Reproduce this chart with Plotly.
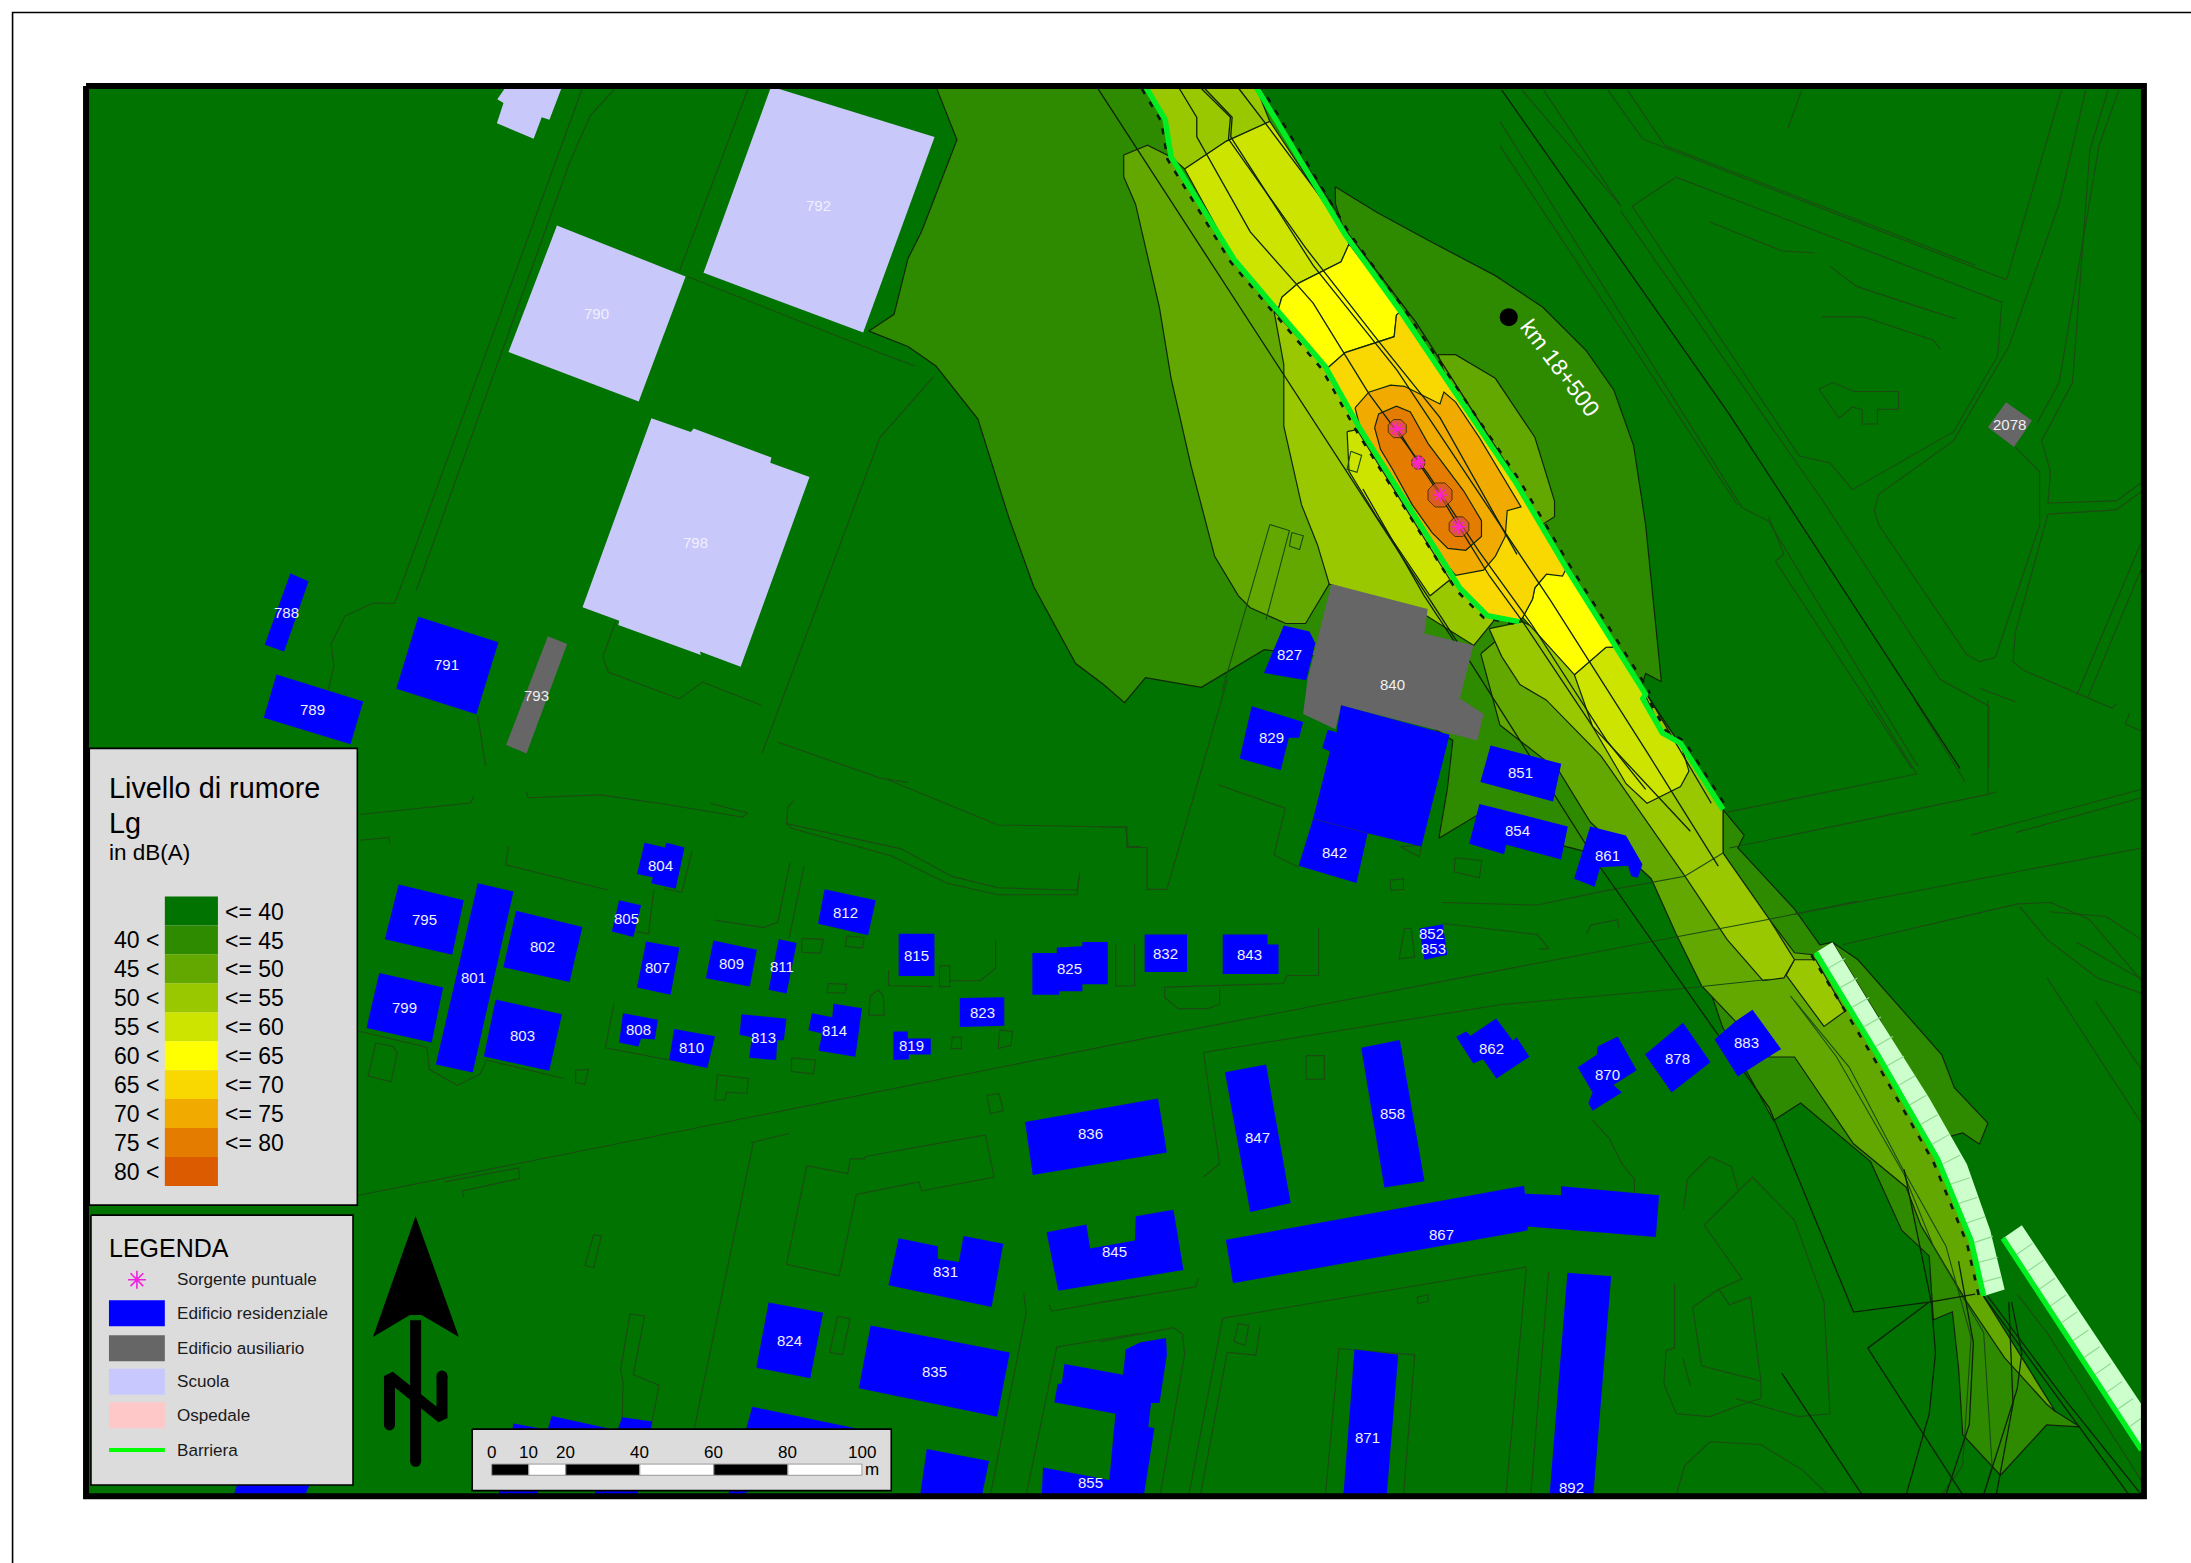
import plotly.graph_objects as go

# ---------- map units: 1 unit = 1.397 px; x to the right, y downward ----------
MAP_W, MAP_H = 1568.4, 1118.8
frame = [(61.6, 61.6), (1534.7, 61.6), (1534.7, 1071), (61.6, 1071), (61.6, 61.6)]

# ---------- noise classes ----------
level_colors = ["#007300", "#2e8b00", "#62a800", "#99c700", "#cde300", "#ffff00",
                "#f8d800", "#f0aa00", "#e47c00", "#dc5a00"]
upper_labels = ["<= 40", "<= 45", "<= 50", "<= 55", "<= 60", "<= 65", "<= 70", "<= 75", "<= 80"]
lower_labels = ["40 <", "45 <", "50 <", "55 <", "60 <", "65 <", "70 <", "75 <", "80 <"]

barrier_ne = [(899, 62), (963, 168), (1002.5, 222.7), (1036.5, 273.7), (1084.5, 344.4), (1121.3, 406.7),
              (1175, 491.6), (1178, 497), (1176, 500), (1190, 524.7), (1203, 532), (1233.4, 579.5)]
barrier_sw = [(820, 62), (834, 85.5), (838.3, 112.4), (883.6, 186), (914.7, 222.7), (948.7, 262.4), (974, 307.6),
              (1008, 361.4), (1045, 420.8), (1064.7, 440.6), (1087.4, 444.9)]

zone45_main = [(670, 62), (685, 100), (660, 165), (650, 185), (640, 225), (622, 237), (650, 248), (670, 262), (700, 300),
               (722, 370), (740, 420), (770, 475), (790, 490), (805, 503), (820, 485), (860, 492), (905, 465), (945, 470),
               (1040, 530), (1036, 565), (1030, 600), (1060, 582), (1117, 605), (1176, 620), (1194, 647), (1218, 691),
               (1233, 735), (1251, 767.6), (1269.5, 802), (1289, 789.5), (1339, 831.5), (1361.4, 880.8), (1381, 899),
               (1384, 944.7), (1397.6, 939), (1402, 979), (1405, 1027), (1432, 1056), (1465, 1020), (1489, 1021.4),
               (1471, 1010), (1420, 928), (1411, 888), (1381, 810), (1311.7, 674.5), (1302.7, 676.3), (1284.6, 650.7),
               (1244, 607), (1248.5, 597.8), (1233.4, 579.5), (1175, 491.6), (1121, 406), (899, 62)]
zone45_east = [(955.8, 133.6), (985.5, 152), (1022, 171.8), (1070.4, 197.3), (1104.4, 219.9), (1135.5, 251),
               (1155.3, 279.3), (1169.4, 319), (1178, 375.6), (1189.3, 488), (1178, 482), (1175, 491.6), (1121, 406.7),
               (1036.5, 273.7), (963, 168), (956, 146)]
zone45_bar = [(1311.7, 674.5), (1330, 687), (1390, 755), (1399, 778.6), (1423, 804), (1417, 819), (1405, 811), (1390, 815),
              (1345, 729)]
zone50_west = [(804.4, 111), (821.4, 103.9), (838.3, 112.4), (883.6, 186), (914.7, 222.7), (948.7, 262.4), (1008, 361.4),
               (1045, 420.8), (951.5, 418), (934.6, 446.3), (920.4, 446.3), (910.5, 442), (895, 435), (886.5, 426.5),
               (869.5, 398.2), (852.5, 333.1), (838.3, 270.8), (829.9, 219.9), (812.9, 146.3), (804.4, 126.5)]
zone50_east = [(1029.4, 253.9), (1042, 253.9), (1070.4, 270.8), (1098.7, 313), (1112.8, 358.6), (1112.8, 369.9),
               (1101.5, 377), (1084.5, 344.4), (1036.5, 273.7)]
zone50_south = [(1060, 468), (1073.7, 519), (1116, 552), (1138.5, 588.6), (1182, 629), (1200, 669), (1218, 705.5),
                (1266.5, 756.6), (1284.6, 756.6), (1326.8, 818.7), (1364.5, 849.8), (1375, 877), (1408, 932), (1435, 972),
                (1465, 1005), (1471.4, 1010.5), (1420, 928), (1411, 888), (1375, 804), (1299.7, 683.6), (1284.6, 682),
                (1266.5, 658), (1233.4, 610.6), (1233.4, 579.5), (1175, 491.6), (1087, 445)]
zone55_north = [(912, 222.7), (948.7, 262.4), (974, 307.6), (1008, 361.4), (1045, 420.8), (1064.7, 440.6), (1070, 443.5),
                (1055, 462), (1020, 440), (951.5, 418), (943, 389.7), (931.7, 361.4), (919, 305), (919, 261)]
zone55_top = [(820, 62), (899, 62), (909, 87), (878, 101), (848, 121), (838, 112), (834, 85)]
zone55_south = [(1066, 450), (1075, 470), (1088, 490), (1106.8, 501), (1146, 541), (1179, 588.6), (1206, 627), (1236.4, 672.6),
                (1262, 702), (1277, 700), (1284.6, 687), (1266.5, 658), (1233.4, 610.6), (1233.4, 579.5), (1175, 491.6),
                (1090, 445)]
zone55_pocket = [(1278.6, 698), (1305.7, 734.7), (1320.8, 723.8), (1299.7, 687), (1284.6, 687)]
zone60_top = [(848, 121), (878, 101), (909, 87), (963, 168), (965.7, 174.6), (960, 187.4), (929, 203), (917.6, 212.8),
              (914.7, 222.7), (883.6, 186)]
zone60_sliver = [(964.3, 309), (971.4, 307.6), (1037.9, 415), (1023.7, 426.5), (985.5, 369.9), (965.7, 337.3)]
zone60_south = [(1127, 483), (1149.6, 463.3), (1158, 463), (1175, 491.6), (1190, 524.7), (1203, 532), (1209, 552), (1203, 563),
                (1179, 575), (1164, 561), (1140, 520)]
zone65_north = [(917.6, 212.8), (929, 203), (960, 187.4), (965.7, 174.6), (1002.5, 222.7), (999.6, 225.6), (998, 241),
                (962.9, 252.4), (950, 263.8), (914.7, 222.7)]
zone65_south = [(1107, 411), (1121.3, 406.7), (1158, 463), (1149.6, 463.3), (1127, 483), (1090, 442), (1097, 429), (1098.7, 420.8)]
zone70 = [(950, 263.8), (962.9, 252.4), (998, 241), (999.6, 225.6), (1002.5, 222.7), (1036.5, 273.7), (1084.5, 344.4),
          (1121.3, 406.7), (1118.5, 412.3), (1107, 411), (1098.7, 420.8), (1097, 429), (1090, 442), (1087.4, 444.9),
          (1064.7, 440.6), (1045, 420.8), (1008, 361.4), (974, 307.6)]
zone75 = [(970, 292), (979.8, 280.7), (995.4, 275.7), (1005.3, 276.5), (1030.8, 289.2), (1033.6, 280.7), (1042, 287.8),
          (1059, 313.3), (1088.8, 362.8), (1078.9, 365.6), (1077.5, 384), (1070.4, 398.2), (1061.9, 408.1), (1042, 411.8),
          (1036.4, 405.3), (1008, 361.4), (974, 307.6)]
zone80 = [(984, 306.2), (986.9, 296.3), (999.6, 290.7), (1009.6, 294.9), (1022.3, 317.5), (1036.4, 335.9), (1047.8, 351.5),
          (1060.5, 372.7), (1060.5, 384), (1049.2, 393.9), (1036.4, 392.5), (1025.1, 381.2), (1011, 361.4), (996.8, 335.9),
          (988.3, 321.8)]

source_x = [1000.2, 1015.2, 1030.8, 1044.4]
source_y = [306.8, 331.1, 354.3, 377.0]
source_hot_radius = [7.0, 5.0, 9.3, 7.6]

# ---------- thin cadastral / road lines ----------
road_lines = [
    [(417, 62.8), (282.6, 432), (267.3, 431.6), (247, 440.8), (237, 460.8), (239, 477.3), (235, 493.7)],
    [(440.8, 62.8), (422.5, 82.9), (408, 115.7), (298, 422.5)],
    [(535.7, 62.8), (486.4, 194)], [(492, 198), (630, 252.7), (655, 262)], [(668, 270), (630, 313), (545.6, 539)],
    [(440.8, 444.4), (431.6, 470), (435.3, 481), (486.4, 500.3), (502.8, 488.2), (544.8, 504.7)],
    [(556.9, 531.3), (630, 556.9), (650, 560)], [(342, 512), (347.6, 548.5)],
    [(257.4, 583), (336.7, 574.8), (339.2, 570.4)],
    [(376.8, 566.7), (378, 571), (430, 569), (477.3, 575.9), (532, 585), (535, 582), (508.3, 575)],
    [(257.4, 601.5), (278.2, 599.6), (279.3, 604)],
    [(568.4, 573), (564, 578), (563, 589.5), (645, 607.6), (681.6, 627.3), (714.5, 635.5), (771, 637.2), (773, 624), (771, 640.5),
     (714.5, 640.5), (678, 632.3), (637.8, 612.5), (566.6, 592.8), (563, 589.5)],
    [(636, 558.3), (714.5, 590.5), (805.8, 592.2), (807.6, 606), (816, 606)],
    [(256, 855.8), (816, 744), (1073.7, 694.6), (1266.5, 658), (1330, 645)],
    [(1236.4, 581.3), (1372, 554), (1339, 501)], [(1238, 607), (1423, 568.6), (1429, 566.7)],
    [(1284.6, 654.4), (1533, 607)], [(1319, 676.3), (1444.3, 647), (1468, 646), (1495.5, 658), (1533, 702)],
    [(1411, 597.8), (1533, 565)], [(1442.8, 596), (1533, 571)], [(1423, 501), (1423, 568.6)],
    [(1370.5, 501), (1406.6, 559.4)], [(1467, 652.6), (1507.6, 656), (1533, 672.6)],
    [(1445.8, 649), (1465.4, 672.6), (1501.5, 700), (1533, 711)], [(1465.4, 700), (1533, 804)],
    [(1500, 716.5), (1533, 765.8)], [(1486.5, 674.5), (1533, 701)],
    [(1281.6, 712.8), (1323.8, 764), (1360, 833), (1393, 892), (1411, 957.5), (1405, 1049), (1390, 1070)],
    [(1284.6, 716.5), (1314.7, 756.6), (1363, 840.6), (1384, 892), (1420, 954), (1426, 1049), (1420, 1070)],
    [(1205, 866), (1208, 844), (1224, 828), (1239.4, 835), (1244, 851.6)],
    [(1220, 877), (1254.5, 842.5), (1284.6, 873.5), (1305.7, 932), (1310, 1012), (1287.6, 1014), (1242.4, 1001)],
    [(1220, 877), (1247, 915.5), (1230.4, 922.8), (1238, 934), (1253, 928.3), (1260.5, 988.5), (1218, 977.6), (1211.7, 935.6), (1230.4, 922.8)],
    [(1140, 802), (1152, 815), (1161, 833), (1170, 844), (1170, 853.4)],
    [(1198.7, 919), (1198.7, 965), (1192.7, 966.6), (1191, 990.4), (1200, 1012), (1224, 1014), (1242.4, 1007), (1260.5, 1001), (1260.5, 988.5)],
    [(1204.7, 972), (1210, 992)], [(1200, 1070), (1206, 1049), (1224, 1032), (1260.5, 1034), (1290.6, 1052.5), (1308.7, 1070)],
    [(1108.6, 910), (1095.8, 1070)], [(1092.6, 908), (1078, 1070)], [(1092.6, 907), (875.3, 943.6), (851, 1070)],
    [(878.5, 968), (859.3, 1070)], [(878.5, 968), (899, 970), (902, 950)],
    [(958.4, 965.3), (1012.7, 969.8), (1004.7, 1070)], [(958.4, 965.3), (948.8, 1070)],
    [(857.7, 915), (856, 921), (787.4, 932.3)], [(787.4, 960.4), (840, 950.3), (846.5, 955), (848, 969.8), (830.5, 1070)],
    [(861.5, 842.5), (873, 833), (861.5, 753.4), (1075, 719), (1203, 707.7), (1267, 701)],
    [(872, 561.7), (920, 578.5), (912, 612), (929.6, 620.8)],
    [(787.4, 592), (806.6, 592), (806.6, 606.6), (821, 606.6), (821, 636.6), (835.3, 636.6), (878.5, 486.8)],
    [(1032, 646), (1100.6, 647.8), (1145.4, 638.4), (1206, 627.2), (1233.4, 610.6)],
    [(1033.5, 661), (1100.6, 669), (1108.6, 679), (1102, 679.6)], [(1135.8, 668.4), (1139, 662), (1158, 658.3), (1159, 664.6)],
    [(944, 664.6), (944, 698.3), (921.6, 698.3), (918.4, 704), (833.7, 706.6), (833.7, 714), (843.3, 722), (864, 722), (873, 719), (873, 707.7)],
    [(798.6, 676), (798.6, 705.8), (812.3, 705.8), (812.3, 676)],
    [(364, 606), (362, 619), (435, 637)], [(495.4, 609.3), (488, 638.8), (475, 636)], [(468, 637), (464.3, 668.4), (455.2, 666.8)],
    [(565.5, 617.5), (556.7, 660.2), (546.5, 664), (511.8, 658.6)], [(575.7, 619.8), (564.8, 671.7)],
    [(636, 694.7), (636, 705.6), (668, 706.2)], [(679.8, 702), (701.7, 702), (712.7, 693), (712.7, 673)],
    [(439.5, 718.4), (433.3, 750), (479, 758.8)],
    [(256.2, 738), (305.5, 749.6), (307.3, 765.4), (327.4, 777), (343.8, 768.7), (348.2, 758.8), (404, 772)],
    [(318.3, 846), (371.2, 836), (372, 843.6), (331, 852.5), (332, 857.4)],
    [(537.4, 818), (564.8, 811.4)], [(539.2, 818), (497.2, 1021.8)],
    [(450.8, 940.6), (461.4, 942), (453.4, 984), (471.7, 991.5), (466, 1021.8)], [(450.8, 940.6), (444.3, 980.7), (446, 989), (445.4, 1021.8)],
    [(732.8, 925.8), (734.6, 939.6), (709, 1070)], [(816, 954.4), (756.5, 964.2), (734.6, 1070)],
    [(751, 934), (752.8, 938.6), (816, 927.4)],
    [(1089.5, 64.5), (1160.4, 147.6)], [(1105, 64.5), (1160.4, 147.6)], [(1160, 150.8), (1303.9, 357), (1389, 486.4), (1423.7, 505.5), (1423.7, 550)],
    [(1168.3, 147.6), (1288, 326.5), (1310, 331.4), (1326, 350.5), (1398.5, 309), (1430, 254.6), (1433, 216.3), (1199.8, 126.8), (1168.3, 147.6)],
    [(1151, 64.5), (1176, 99.6), (1436.3, 200.3), (1475.7, 64.5)], [(1165, 64.5), (1192, 104.4), (1414, 189.8)],
    [(1493, 64.5), (1474, 146), (1438, 248), (1417.4, 283.4), (1398.5, 315.4), (1345, 353.7), (1341.7, 365), (1345, 376), (1408, 468.8), (1417.4, 473.6), (1428.4, 470.4)],
    [(1509, 64.5), (1496, 107.6), (1483.6, 273.8), (1461.5, 315.4), (1467.8, 337.7), (1466, 360), (1515, 358.5), (1532.5, 345.7)],
    [(1516.7, 64.5), (1502.5, 104.4), (1474, 273.8), (1458.4, 302.6)],
    [(1466, 368), (1515, 365), (1532.5, 352)], [(1466, 368), (1442.6, 452.8), (1441, 473.6), (1449, 480), (1512, 507), (1515, 504)],
    [(1428.4, 470.4), (1460, 376), (1460, 337.7), (1442.6, 320)], [(1486.7, 497.5), (1532.5, 388.9)], [(1494.6, 499), (1532.5, 408)],
    [(1417.4, 492.8), (1442.6, 502.3)], [(1521.4, 518.3), (1524.6, 510.3)], [(1521.4, 518.3), (1532.5, 523)],
    [(1073.7, 86.9), (1247, 363.3), (1266, 373), (1300.7, 430.4), (1373, 548.7)], [(1073.7, 104.4), (1244, 361.7)],
    [(1266, 369.7), (1277, 396.9), (1270.8, 401.7), (1368.5, 550)],
    [(1223.5, 158.8), (1275.5, 179.5), (1299, 181.1)], [(1310, 190.7), (1329, 205), (1382.7, 222.7), (1400, 228.1)],
    [(1303.9, 226.8), (1333.8, 226.8), (1384, 243.5), (1389, 249.8)], [(1289.7, 64.5), (1280, 91.6)],
    [(1302, 278.6), (1311.8, 273.8), (1327.5, 280.2), (1359, 280.2), (1359, 293), (1344, 293), (1344, 303.5), (1333, 303.5), (1333, 293), (1326, 291.4), (1316.5, 299.4), (1302, 278.6)],
    [(909, 375.5), (923, 379.8), (906.3, 443.5)], [(909, 375.5), (875, 494)],
]
small_outlines = [
    [(935, 755.6), (948, 755.6), (948, 772.5), (935, 772.5)], [(1041.5, 614), (1060.7, 616), (1059, 628.3), (1041, 624)],
    [(995, 630), (1004.7, 629), (1004.7, 636.6), (995.8, 637.3)], [(1002.5, 606), (1016, 613.3), (1017.5, 605)],
    [(1005.4, 664.6), (1010.2, 664.6), (1012.7, 685), (1001.5, 686.4)], [(1014.3, 928.6), (1022.3, 926.7), (1022.3, 931.6), (1015, 933)],
    [(883.3, 960.4), (886.5, 947.3), (893.8, 949), (891.3, 963)], [(574, 671.7), (589.3, 672.4), (587.4, 682.2), (574, 681.6)],
    [(606, 670), (618.5, 671), (617.4, 678.6), (605.3, 677.3)], [(592.9, 704), (606, 704.6), (605, 711), (592.2, 710.5)],
    [(623, 712.8), (628.7, 708.5), (632.3, 712.8), (633, 726.6), (622, 726.6)], [(672.5, 691.4), (679.8, 691.4), (679.8, 706.2), (672.5, 706.2)],
    [(566.6, 757.2), (583.8, 758.8), (582.3, 768.7), (566.6, 767)], [(513.6, 769.3), (535.6, 772), (534.8, 782.5), (520.2, 781.8), (519, 787.4), (511.8, 787.4)],
    [(681.6, 742.4), (688.2, 742.4), (688.2, 750.6), (681, 750.6)], [(715.6, 737.4), (724.7, 738.4), (723.7, 748.3), (714.5, 750.6)],
    [(706.5, 784), (715.2, 782.8), (718.2, 795), (709, 797.3)], [(269, 746.6), (281.7, 749), (284.3, 754), (280, 774.3), (263.5, 770.3)],
    [(412, 766), (421.3, 765.4), (418.7, 776.2), (412, 775)], [(425, 883.7), (430.4, 884.7), (425, 907.4), (418.7, 906)],
    [(599.5, 942.2), (608.6, 943.9), (603, 969.8), (594, 968)], [(924.7, 381.2), (933, 383.5), (930.3, 393.4), (923, 391)],
    [(967, 323), (974.7, 326), (971.4, 338), (964.3, 336)],
    [(577.6, 834.4), (606.8, 840), (608.6, 829.5), (618.5, 829.5), (619.5, 827.8), (705.4, 812.4), (711.6, 842.6), (659.7, 852.5), (657.9, 846), (613, 855), (600.6, 913.3), (563, 905)],
]
dark_lines = [
    [(785, 62), (917.6, 266.6), (1050, 470), (1146, 621.5), (1266.5, 793), (1326.8, 939.2), (1381, 932), (1414, 926.4)],
    [(1075, 64.5), (1237.7, 296.2), (1403, 550)],
    [(844, 63), (856.7, 84), (856.7, 98), (895, 166), (940, 217), (980, 282), (1022, 339), (1059, 395), (1096, 446.3), (1150, 530), (1178, 565)],
    [(859.6, 63), (880.8, 84), (879.4, 99.6), (934.6, 177.5), (985.5, 242.5), (1030.8, 299), (1085.9, 396.8)],
    [(862, 63), (882, 84), (881, 98), (940, 190), (1000, 265), (1050, 340), (1110, 430), (1180, 540), (1230, 620)],
    [(886.5, 63), (909, 92.5), (968.5, 171.8), (1013.8, 231), (1078.9, 333), (1121.3, 406.7), (1175, 490), (1225, 575)],
    [(1000.2, 306.8), (1015.2, 331), (1030.8, 354.3), (1044.4, 377), (1066.2, 412.3), (1090, 445), (1140, 520), (1210, 595)],
    [(975.6, 350), (1019.5, 426.5), (1042, 460.5)],
    [(1364.5, 1070), (1381, 1012), (1385.5, 968.5), (1382.5, 932), (1363, 837)],
    [(1393, 1070), (1409.7, 1019.6), (1412.6, 961), (1402, 902.7)],
    [(1420, 1070), (1444, 994), (1447.3, 968.5), (1440, 932)], [(1429, 1070), (1441, 1005), (1438, 932)],
    [(1420, 928), (1489.5, 1023), (1524, 1070)], [(1423, 928), (1477.5, 1001), (1533, 1070)],
    [(1337, 965), (1405, 1070)], [(1337, 965), (1381, 932)], [(1275.6, 983), (1333, 1070)],
]
long_grey = [[(1444, 926.5), (1465.4, 954), (1533, 1060)]]

# ---------- buildings: (label, label x, label y, outline) ----------
school = [
    ("", 0, 0, [(362.3, 62), (402.4, 62), (393.3, 85.8), (387.8, 84), (382, 99.3), (355.7, 88.3), (360.4, 73.7), (356, 71)]),
    ("792", 585.7, 146.8, [(552, 62), (669, 98), (617.9, 238), (503.6, 195.3)]),
    ("790", 427, 224.5, [(398.7, 161.4), (490.8, 197.9), (457.2, 287.4), (364, 252)]),
    ("798", 498, 388, [(466.3, 299.4), (494.5, 309.3), (496.6, 306.7), (552.2, 327.5), (551.4, 331.2), (579.5, 341.4), (530.2, 477.3),
                       (501, 466.3), (501.7, 468.9), (442.6, 447.3), (443.3, 444.4), (417, 434.6)]),
]
auxiliary = [
    ("793", 383.7, 497.7, [(392.2, 455.4), (406, 460.9), (376.9, 539.4), (362.3, 533.2)]),
    ("840", 997, 490, [(953, 418), (1022, 436), (1019.5, 453.4), (1054.8, 462), (1045, 500), (1062, 511), (1057.5, 530), (1000, 515),
                       (960, 505), (956, 522), (932.8, 511), (936, 486)]),
    ("2078", 1438.5, 303.7, [(1423, 305.8), (1436, 288), (1454.6, 301), (1441.7, 320)]),
]
residential = [
    ("788", 204.8, 438.5, [(207.8, 410.5), (220.9, 416), (203.4, 466.3), (189.5, 461.6)]),
    ("789", 224, 508, [(197.9, 482.8), (260, 502.1), (250.9, 532.8), (188.8, 513.8)]),
    ("791", 319.7, 476, [(299.4, 441.5), (356.8, 459.7), (341, 511.3), (283.7, 493)]),
    ("795", 303.7, 658.3, [(285.4, 633.2), (332, 644.4), (323.7, 683.5), (275.5, 672.4)]),
    ("799", 289.3, 721.3, [(271.5, 696.4), (317.2, 706.9), (309, 746.3), (262.4, 735.8)]),
    ("801", 339, 699.7, [(342, 632.3), (367.6, 638.2), (338.4, 767.7), (312, 762)]),
    ("802", 388.4, 677.3, [(369.4, 652), (416.9, 663.5), (407.7, 703), (360.3, 692.4)]),
    ("803", 373.7, 741, [(354.8, 715.4), (402.3, 726), (393.1, 766.4), (346.4, 756.2)]),
    ("804", 472.7, 619.7, [(461.4, 603.3), (476, 606.6), (477.1, 603.3), (490, 606.6), (483.7, 636.2), (466.2, 632.3), (467.3, 628), (456, 625.7)]),
    ("805", 448.6, 657.2, [(443.2, 644.4), (458.9, 648), (453.4, 670.7), (438, 666.8)]),
    ("807", 470.9, 692.7, [(462.5, 674), (486.3, 678.3), (480, 712.1), (456, 706.9)]),
    ("808", 457, 737, [(446, 725.3), (470.9, 729.9), (468.7, 744), (458.9, 743.4), (457, 749), (443.2, 746.3)]),
    ("809", 523.4, 690, [(510.7, 673.3), (541.8, 679.9), (536.7, 706.2), (505.3, 700.3)]),
    ("810", 495, 750, [(482.6, 736.5), (511.8, 741.7), (506.3, 764.4), (479, 758.8)]),
    ("811", 560, 691.7, [(557.5, 672.4), (570.3, 675), (563, 711.1), (550.2, 708.5)]),
    ("812", 605.3, 653, [(590.3, 636.5), (626.9, 644.4), (621.4, 669.4), (585.6, 661.2)]),
    ("813", 546.3, 742.5, [(530.8, 726), (563, 729.2), (561.1, 744.7), (556.4, 744.7), (555.6, 758.8), (536.3, 757.2), (538.1, 742.4), (529.4, 740.7)]),
    ("814", 597.6, 737.5, [(596.6, 718.4), (617, 721.7), (612.3, 756.5), (586, 752.2), (588.5, 739.7), (578.7, 737.4), (581.2, 725.3), (595.8, 728.2)]),
    ("815", 655.9, 683.7, [(643.3, 668.4), (668.9, 668.4), (668.9, 698.7), (643.3, 698.7)]),
    ("819", 652.7, 748.3, [(639.6, 738.4), (649.9, 738.4), (649.9, 743.4), (666.3, 743.4), (666.3, 754.9), (650.6, 754.9), (650.6, 758.2), (639.6, 758.8)]),
    ("823", 703, 724.5, [(687.1, 714.4), (718.9, 713.8), (718.9, 734.2), (687.1, 735.1)]),
    ("824", 565, 959.5, [(550.2, 932.4), (589.2, 939.6), (580, 986.6), (541.4, 979)]),
    ("825", 765.7, 693.4, [(739, 682.2), (756.5, 682.2), (756.5, 678.3), (774.8, 677.3), (774.8, 674.3), (793, 674.3), (793, 704.6), (774.8, 704.6),
                           (774.8, 709.5), (758.3, 709.5), (758.3, 712.1), (739, 712.1)]),
    ("827", 923, 468.5, [(919, 447.7), (937.4, 452), (941.6, 460.4), (935, 487), (904.8, 481.7)]),
    ("829", 910, 528, [(896, 505.5), (932.8, 516.8), (930, 528), (922.6, 528), (916.8, 551.2), (887.4, 543)]),
    ("831", 676.5, 910, [(643.3, 886.3), (671.4, 892), (671.4, 901), (686.4, 903.4), (689.7, 884.7), (718.2, 890.3), (709.8, 935.6), (636, 919.9)]),
    ("832", 834, 682.3, [(819.4, 669), (849.7, 669), (849.7, 695.7), (819.4, 695.7)]),
    ("835", 669, 981.5, [(623.2, 948.8), (722.9, 968.2), (713.8, 1014.2), (614.8, 993.8)]),
    ("836", 780.5, 811.5, [(733.8, 803.2), (829, 786.3), (835.3, 824.9), (739.3, 841)]),
    ("842", 955.2, 610.4, [(960, 504.8), (1037.6, 526), (1017.5, 606), (979, 596.5), (971, 632), (929.6, 619.7), (940, 586), (952, 538),
                           (946.6, 535.5), (950.4, 522.4), (956.8, 524.2)]),
    ("843", 894.7, 683, [(875.3, 669), (907.3, 669), (907.3, 676), (915.2, 676), (915.2, 697.2), (875.3, 697.2)]),
    ("845", 797.5, 895.5, [(749.2, 882), (777.7, 876.5), (780.3, 893.6), (812.4, 888), (813, 870.6), (840, 866), (847.2, 909), (757.6, 924)]),
    ("847", 900, 814.5, [(876.9, 767.6), (906.3, 762), (923.9, 861.2), (895, 867.6)]),
    ("851", 1088.5, 553, [(1067, 533.6), (1117.6, 546.7), (1111.8, 573.7), (1059.7, 559.8)]),
    ("854", 1086.5, 594.5, [(1059, 575.5), (1122.3, 591.6), (1117.5, 615.2), (1078.2, 604.7), (1076.6, 611.5), (1051.7, 604)]),
    ("855", 780.3, 1061.2, [(762, 976.4), (804, 984), (805.8, 965.9), (816, 961), (834.7, 957.8), (835.3, 969.8), (830, 1004.2), (824, 1004.2), (822, 1021.4),
                            (826.4, 1022.2), (818.7, 1071), (793, 1071), (798.5, 1012), (754.7, 1003.7), (757.2, 990.5), (760, 990.5)]),
    ("", 0, 0, [(746.7, 1050.4), (794.9, 1059.6), (793, 1071), (745.6, 1071)]),
    ("852", 1024.5, 668, []),
    ("853", 1026.5, 679, [(1016, 664.6), (1032.8, 661.6), (1036, 683.4), (1019.7, 687)]),
    ("858", 996.5, 797, [(974.4, 750), (1002, 744.4), (1019.7, 845.5), (991, 850)]),
    ("861", 1150.5, 612.5, [(1138.3, 591.6), (1163.9, 598), (1175.7, 618.6), (1172.5, 628.3), (1167.7, 627.2), (1165.5, 619.7), (1145.4, 620.8), (1141.5, 634.7), (1126.8, 629)]),
    ("862", 1068, 750.5, [(1042.4, 742.1), (1049.5, 738.4), (1052.7, 741.4), (1071, 729), (1083, 745), (1085.6, 742.5), (1094.8, 756.4), (1071.2, 772), (1061.6, 758.2), (1054.6, 761.2)]),
    ("867", 1032, 883.5, [(877.5, 887.4), (1091, 848.8), (1091.6, 854.5), (1117.5, 855.6), (1117.5, 849.2), (1187.6, 855.6), (1185.3, 885.5), (1093.6, 878), (1093.6, 880.7), (882.6, 918.5)]),
    ("870", 1150.5, 769, [(1129.4, 764), (1143, 755), (1143.6, 749), (1158, 742), (1171.6, 766), (1155, 776.7), (1161, 782), (1140, 795), (1137, 789.5), (1140, 782)]),
    ("871", 979, 1029, [(969.6, 966), (1000.9, 969.8), (992.6, 1071), (961.6, 1071)]),
    ("878", 1201, 757.5, [(1177.6, 754.8), (1204.8, 732), (1224.4, 760.3), (1196.6, 782)]),
    ("883", 1250, 746, [(1227.4, 744), (1242.4, 731), (1254.5, 722.7), (1275, 751), (1260.5, 760), (1244, 770.5)]),
    ("892", 1125, 1064.5, [(1122, 911), (1153.3, 913.6), (1140.5, 1071), (1109.2, 1071)]),
    ("", 0, 0, [(663.4, 1037.2), (708, 1045.8), (702.8, 1071), (658.6, 1071)]),
    ("", 0, 0, [(538.5, 1007), (612.3, 1022.4), (610, 1035), (528, 1071), (521, 1071)]),
    ("", 0, 0, [(367.6, 1019), (385.8, 1022.4), (385, 1071), (356.6, 1071)]),
    ("", 0, 0, [(395, 1013.5), (435, 1022.4), (430, 1040), (390, 1030)]),
    ("", 0, 0, [(445.4, 1014.5), (466.9, 1017.5), (456, 1071), (425, 1071)]),
    ("", 0, 0, [(170, 1062), (222, 1062), (218, 1071), (167, 1071)]),
]
split_line_842 = [(940, 586), (979, 596.5)]

# ---------- noise barriers ----------
barrier_a_outline = [(1299.7, 681.8), (1311.7, 674.5), (1345, 729), (1381, 786), (1408, 833.3), (1424.7, 880.8), (1435, 923),
                     (1420, 927.6), (1411, 888), (1387, 829.7), (1345, 756.6)]
barrier_a_inner = [(1299.7, 681.8), (1345, 756.6), (1387, 829.7), (1411, 888), (1420, 927.6)]
barrier_a_ticks = [
    [(1307, 694), (1321, 686)], [(1315.6, 708), (1329.6, 700)], [(1324, 722), (1338, 714)], [(1332.5, 736), (1346.5, 728)],
    [(1341, 750), (1355, 742)], [(1349, 764), (1363, 756)], [(1357, 778), (1371, 770)], [(1365, 792), (1379, 784)],
    [(1373, 806), (1387, 798)], [(1381.5, 820), (1395.5, 812)], [(1389, 834), (1403, 827)], [(1395, 848), (1410, 843)],
    [(1400.5, 862), (1415.5, 857)], [(1406, 876), (1421, 871)], [(1411.5, 890), (1426.5, 885)], [(1415, 904), (1430, 900)],
    [(1418, 918), (1433, 914)],
]
barrier_b_outline = [(1433.8, 886.3), (1447.3, 877), (1534, 1006.8), (1534, 1038)]
barrier_b_inner = [(1433.8, 886.3), (1533, 1038)]
barrier_b_ticks = [
    [(1442, 899), (1455, 890)], [(1450, 911), (1463, 902)], [(1458, 924), (1471, 915)], [(1466, 936), (1479, 927)],
    [(1474, 948), (1487, 939)], [(1482, 961), (1495, 952)], [(1490, 973), (1503, 964)], [(1498, 985), (1511, 976)],
    [(1506, 998), (1519, 989)], [(1514, 1010), (1527, 1001)], [(1522, 1023), (1533, 1015)],
]
km_point = (1080, 227)

# ---------- north arrow and scale ----------
arrow_head = [(297.5, 870.6), (328.5, 957), (301.8, 941.2), (293.4, 941.2), (267, 957)]
arrow_stem = [(297.5, 945), (297.5, 1046)]
arrow_n = [(278.8, 1020), (278.8, 985), (316.4, 1015), (316.4, 985)]
scale_ticks = [0, 10, 20, 40, 60, 80, 100]
SCALE_X0, SCALE_PER_M = 352.0, 2.65

# ---------- legends ----------
legend_items = ["Sorgente puntuale", "Edificio residenziale", "Edificio ausiliario", "Scuola", "Ospedale", "Barriera"]
legend_y = [916, 940, 965, 989, 1013, 1038]
legend_swatches = [None, "#0000ff", "#666666", "#c8c8ff", "#ffc8c8", None]

FONT = "Liberation Sans, Arial, sans-serif"
fig = go.Figure()


def xs(pts, close=False):
    v = [p[0] for p in pts]
    return v + v[:1] if close else v


def ys(pts, close=False):
    v = [p[1] for p in pts]
    return v + v[:1] if close else v


def poly(pts, fill, line="rgba(0,0,0,0)", width=0.0):
    fig.add_trace(go.Scatter(x=xs(pts, True), y=ys(pts, True), mode="lines", fill="toself", fillcolor=fill,
                             line=dict(color=line, width=width), hoverinfo="skip", showlegend=False))


def path(pts, color, width=1.0, dash="solid"):
    fig.add_trace(go.Scatter(x=xs(pts), y=ys(pts), mode="lines", line=dict(color=color, width=width, dash=dash),
                             hoverinfo="skip", showlegend=False))


def text(x, y, s, size, color="#000000", anchor="left", angle=0):
    fig.add_annotation(x=x, y=y, text=s, showarrow=False, xanchor=anchor, yanchor="middle", textangle=angle,
                       font=dict(family=FONT, size=size, color=color), xref="x", yref="y", borderpad=0, borderwidth=0)


# background
poly([(61.6, 61.6), (1534.7, 61.6), (1534.7, 1071), (61.6, 1071)], level_colors[0])

# noise bands, lowest to highest
CONTOUR = "#10260a"
for pts in (zone45_main, zone45_east, zone45_bar):
    poly(pts, level_colors[1], CONTOUR, 1.2)
for pts in (zone50_west, zone50_east, zone50_south):
    poly(pts, level_colors[2], CONTOUR, 1.2)
for pts in (zone55_north, zone55_top, zone55_south, zone55_pocket):
    poly(pts, level_colors[3], CONTOUR, 1.2)
for pts in (zone60_top, zone60_sliver, zone60_south):
    poly(pts, level_colors[4], CONTOUR, 1.2)
for pts in (zone65_north, zone65_south):
    poly(pts, level_colors[5], CONTOUR, 1.2)
poly(zone70, level_colors[6], CONTOUR, 1.2)
poly(zone75, level_colors[7], CONTOUR, 1.2)
poly(zone80, level_colors[8], CONTOUR, 1.2)

# thin lines
for pts in road_lines:
    path(pts, "#1c4a14", 1.1)
for pts in small_outlines:
    path(pts + pts[:1], "#1c4a14", 1.1)
for pts in long_grey:
    path(pts, "#1c4a14", 1.1)
for pts in dark_lines:
    path(pts, "#0c2206", 1.3)

# hot spots and sources
fig.add_trace(go.Scatter(x=source_x, y=source_y, mode="markers", hoverinfo="skip", showlegend=False,
                         marker=dict(symbol="octagon", size=[2 * r * 1.397 for r in source_hot_radius],
                                     color=["#d84a50", "#d0309a", "#d85030", "#d84a50"], line=dict(color="#1a1a00", width=1))))
fig.add_trace(go.Scatter(x=source_x, y=source_y, mode="markers", hoverinfo="skip", showlegend=False,
                         marker=dict(symbol="asterisk-open", size=12, color="#ff20d0", line=dict(color="#ff20d0", width=1.6))))

# barriers
path([(x + 2.6, y - 1.6) for x, y in barrier_ne], "#0a1a0a", 2.6, "6px,9px")
path([(x - 2.6, y + 1.6) for x, y in barrier_sw], "#0a1a0a", 2.6, "6px,9px")
path(barrier_ne, "#00ee22", 5.4)
path(barrier_sw, "#00ee22", 5.4)
path([(x - 3, y + 2) for x, y in barrier_a_inner], "#0a1a0a", 2.6, "6px,9px")
poly(barrier_a_outline, "#ccffcc")
for t in barrier_a_ticks:
    path(t, "#90d890", 1.1)
path(barrier_a_inner, "#00f020", 5.4)
poly(barrier_b_outline, "#ccffcc")
for t in barrier_b_ticks:
    path(t, "#90d890", 1.1)
path(barrier_b_inner, "#00f020", 5.4)

# buildings
for name, lx, ly, pts in school:
    poly(pts, "#c8c8fa")
    if name:
        text(lx, ly, name, 15, "#f0f0ff", "center")
for name, lx, ly, pts in auxiliary:
    poly(pts, "#666666")
    text(lx, ly, name, 15, "#f0f0f0", "center")
for name, lx, ly, pts in residential:
    if pts:
        poly(pts, "#0000ff")
    if name:
        text(lx, ly, name, 15, "#f0f0ff", "center")
path(split_line_842, "#1c1c90", 1)

# km marker
fig.add_trace(go.Scatter(x=[km_point[0]], y=[km_point[1]], mode="markers", hoverinfo="skip", showlegend=False,
                         marker=dict(size=18, color="#000000")))
text(1116.9, 263.3, "km 18+500", 23, "#ffffff", "center", 53)

# north arrow
poly(arrow_head, "#000000")
path(arrow_stem, "#000000", 11)
path(arrow_n, "#000000", 11)
fig.add_trace(go.Scatter(x=[arrow_stem[1][0], arrow_n[0][0], arrow_n[3][0]], y=[arrow_stem[1][1], arrow_n[0][1], arrow_n[3][1]],
                         mode="markers", hoverinfo="skip", showlegend=False, marker=dict(size=11, color="#000000")))

# scale box
poly([(338, 1023), (638, 1023), (638, 1067), (338, 1067)], "#dcdcdc", "#000000", 1.6)
for i in range(len(scale_ticks) - 1):
    a = SCALE_X0 + scale_ticks[i] * SCALE_PER_M
    b = SCALE_X0 + scale_ticks[i + 1] * SCALE_PER_M
    poly([(a, 1048), (b, 1048), (b, 1056), (a, 1056)], "#000000" if i % 2 == 0 else "#ffffff", "#999999", 1)
for v in scale_ticks:
    text(SCALE_X0 + v * SCALE_PER_M, 1040, str(v), 17, "#000000", "center")
text(619.5, 1052, "m", 17, "#000000", "left")

# colour legend panel
poly([(63.9, 535.7), (255.8, 535.7), (255.8, 862.6), (63.9, 862.6)], "#dcdcdc", "#000000", 1.6)
text(78, 564, "Livello di rumore", 28.8)
text(78, 589, "Lg", 28.8)
text(78, 610.5, "in dB(A)", 22.5)
STEP = 20.72
for i, c in enumerate(level_colors):
    y0 = 641.7 + i * STEP
    poly([(118, y0), (156, y0), (156, y0 + STEP), (118, y0 + STEP)], c)
for i, s in enumerate(upper_labels):
    text(161, 652.5 + i * STEP, s, 23)
for i, s in enumerate(lower_labels):
    text(114, 673.2 + i * STEP, s, 23, anchor="right")

# symbol legend panel
poly([(65.1, 869.8), (252.7, 869.8), (252.7, 1063), (65.1, 1063)], "#dcdcdc", "#000000", 1.6)
text(78, 893, "LEGENDA", 25)
for s, y, c in zip(legend_items, legend_y, legend_swatches):
    text(127, y, s, 17.1, "#1a1a1a")
    if c:
        poly([(78, y - 9.3), (118, y - 9.3), (118, y + 9.3), (78, y + 9.3)], c)
fig.add_trace(go.Scatter(x=[98], y=[legend_y[0]], mode="markers", hoverinfo="skip", showlegend=False,
                         marker=dict(symbol="asterisk-open", size=15, color="#f020e0", line=dict(color="#f020e0", width=1.6))))
path([(78, legend_y[5]), (118, legend_y[5])], "#00ff00", 4)

# frames
path(frame, "#000000", 6)
path([(9, MAP_H), (9, 9), (MAP_W, 9)], "#000000", 1.6)

fig.update_layout(width=2191, height=1563, margin=dict(l=0, r=0, t=0, b=0), autosize=False,
                  paper_bgcolor="#ffffff", plot_bgcolor="#ffffff", showlegend=False,
                  xaxis=dict(range=[0, MAP_W], visible=False, fixedrange=True),
                  yaxis=dict(range=[MAP_H, 0], visible=False, fixedrange=True))
fig.write_html("out.html", config=dict(displayModeBar=False),
               post_script="document.body.style.margin='0';document.documentElement.style.overflow='hidden';")
